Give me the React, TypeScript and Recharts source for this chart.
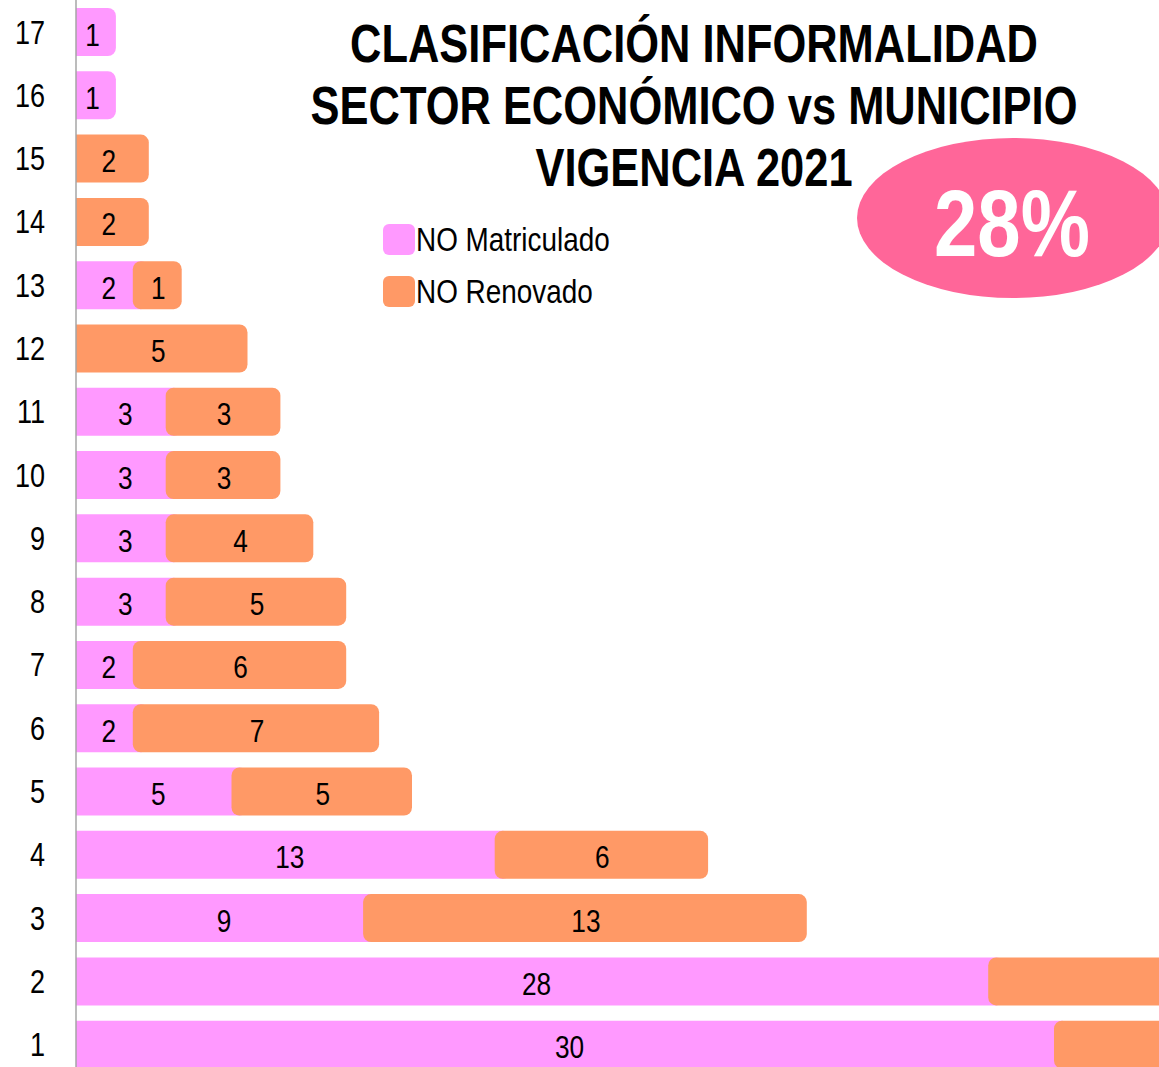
import React from "react";
import {
  BarChart,
  Bar,
  XAxis,
  YAxis,
  LabelList,
  Legend,
  Rectangle,
} from "recharts";

const categories = ["1", "2", "3", "4", "5", "6", "7", "8", "9", "10", "11", "12", "13", "14", "15", "16", "17"];
const noMatriculado = [30, 28, 9, 13, 5, 2, 2, 3, 3, 3, 3, 0, 2, 0, 0, 1, 1];
const noRenovado = [8, 12, 13, 6, 5, 7, 6, 5, 4, 3, 3, 5, 1, 2, 2, 0, 0];

const data = categories.map((c, i) => ({
  cat: c,
  matriculado: noMatriculado[i],
  renovado: noRenovado[i],
}));

const PINK = "#FF99FF";
const ORANGE = "#FF9966";
const FONT = "'Liberation Sans', Arial, sans-serif";
const SQUEEZE = 0.82; // narrow look like Arial Narrow
const VISIBLE_W = 1159;

const NarrowText = ({ x, y, anchor = "middle", size, weight = "normal", fill = "#000", dy, children }: any) => (
  <text
    transform={`translate(${x} ${y}) scale(${SQUEEZE} 1)`}
    textAnchor={anchor}
    fontFamily={FONT}
    fontSize={size}
    fontWeight={weight}
    fill={fill}
    dy={dy}
  >
    {children}
  </text>
);

const PinkShape = (props: any) => {
  const { x, y, width, height } = props;
  if (!width || width <= 0) return <g />;
  return (
    <Rectangle x={x} y={y} width={width + 7} height={height} fill={PINK} radius={[0, 8, 8, 0]} />
  );
};

const OrangeShape = (props: any) => {
  const { x, y, width, height, payload } = props;
  if (!width || width <= 0) return <g />;
  if (payload && payload.matriculado > 0) {
    return <Rectangle x={x - 9} y={y} width={width + 16} height={height} fill={ORANGE} radius={8} />;
  }
  return (
    <Rectangle x={x} y={y} width={width + 7} height={height} fill={ORANGE} radius={[0, 8, 8, 0]} />
  );
};

const YTick = (props: any) => (
  <NarrowText x={props.x} y={props.y} anchor="end" size={33} dy="0.36em">
    {props.payload.value}
  </NarrowText>
);

const BarLabel = (props: any) => {
  const { x, y, width, height, value } = props;
  const cx = x + width / 2;
  // zero segments and labels past the cropped right edge are not shown
  if (!value || cx > VISIBLE_W - 10) return null;
  return (
    <NarrowText x={cx} y={y + height / 2 + 2} size={32} dy="0.36em">
      {value}
    </NarrowText>
  );
};

const LegendContent = () => (
  <div style={{ fontFamily: FONT, fontSize: 34, color: "#000" }}>
    {[
      { label: "NO Matriculado", color: PINK },
      { label: "NO Renovado", color: ORANGE },
    ].map((it) => (
      <div key={it.label} style={{ display: "flex", alignItems: "center", height: 52 }}>
        <div style={{ width: 32, height: 31, background: it.color, borderRadius: 6, marginRight: 1, flex: "none" }} />
        <span
          style={{
            display: "inline-block",
            whiteSpace: "nowrap",
            transform: `scaleX(${SQUEEZE})`,
            transformOrigin: "left center",
          }}
        >
          {it.label}
        </span>
      </div>
    ))}
  </div>
);

export default function App() {
  return (
    <div
      style={{
        position: "absolute",
        left: 0,
        top: 0,
        width: VISIBLE_W,
        height: 1067,
        overflow: "hidden",
        background: "#fff",
      }}
    >
      <BarChart
        layout="vertical"
        width={1392}
        height={1076}
        data={data}
        margin={{ top: 0, right: 0, bottom: 0, left: 0 }}
        barSize={48}
      >
        <XAxis type="number" domain={[0, 40]} hide />
        <YAxis
          type="category"
          dataKey="cat"
          reversed
          width={76}
          interval={0}
          axisLine={{ stroke: "#a6a6a6", strokeWidth: 1.5 }}
          tickLine={false}
          tickSize={0}
          tickMargin={31}
          tick={YTick}
        />
        <Legend
          layout="vertical"
          align="center"
          verticalAlign="middle"
          content={<LegendContent />}
          wrapperStyle={{ position: "absolute", left: 383, top: 213, width: 300, height: 104 }}
        />
        <Bar dataKey="matriculado" stackId="a" fill={PINK} shape={PinkShape} isAnimationActive={false}>
          <LabelList dataKey="matriculado" content={BarLabel} />
        </Bar>
        <Bar dataKey="renovado" stackId="a" fill={ORANGE} shape={OrangeShape} isAnimationActive={false}>
          <LabelList dataKey="renovado" content={BarLabel} />
        </Bar>
      </BarChart>
      <svg
        width={VISIBLE_W}
        height={320}
        style={{ position: "absolute", left: 0, top: 0, pointerEvents: "none" }}
      >
        <NarrowText x={694} y={62} size={53} weight="bold">CLASIFICACIÓN INFORMALIDAD</NarrowText>
        <NarrowText x={694} y={124} size={53} weight="bold">SECTOR ECONÓMICO vs MUNICIPIO</NarrowText>
        <NarrowText x={694} y={186} size={53} weight="bold">VIGENCIA 2021</NarrowText>
        <ellipse cx={1013} cy={218} rx={156} ry={80} fill="#FF6699" />
        <NarrowText x={1012} y={256} size={95} weight="bold" fill="#fff">28%</NarrowText>
      </svg>
    </div>
  );
}
